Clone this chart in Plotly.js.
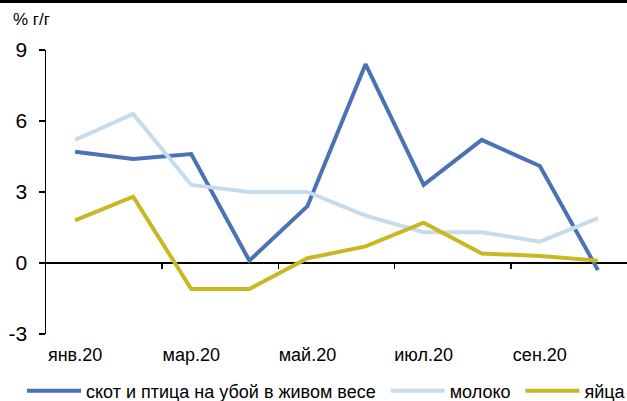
<!DOCTYPE html>
<html><head><meta charset="utf-8">
<script src="https://cdn.plot.ly/plotly-3.0.1.min.js"></script>
<style>html,body{margin:0;padding:0;background:#fff;}#chart{width:627px;height:401px;}</style>
</head><body><div id="chart"></div>
<script>
const months = ["янв.20","фев.20","мар.20","апр.20","май.20","июн.20","июл.20","авг.20","сен.20","окт.20"];
const seriesNames = ["скот и птица на убой в живом весе","молоко","яйца"];
const livestock = [4.7, 4.4, 4.6, 0.1, 2.4, 8.4, 3.3, 5.2, 4.1, -0.3];
const milk = [5.2, 6.3, 3.3, 3.0, 3.0, 2.0, 1.3, 1.3, 0.9, 1.9];
const eggs = [1.8, 2.8, -1.1, -1.1, 0.2, 0.7, 1.7, 0.4, 0.3, 0.1];
const yTicks = [-3, 0, 3, 6, 9];
const colors = ["#4a72b4", "#c6dbec", "#c9b823"];

const idx = months.map((m, i) => i);
const W = 627, H = 401, L = 46, R = 0, T = 50, B = 67;
const pw = W - L - R, ph = H - T - B;
const px = p => (p - L) / pw;
const py = p => (H - B - p) / ph;

const traces = [livestock, milk, eggs].map((v, k) => ({
  x: idx, y: v, type: "scatter", mode: "lines",
  name: seriesNames[k] + (k < 2 ? "\u00a0" : ""),
  line: {color: colors[k], width: 4}, xaxis: "x", yaxis: "y"
}));
traces.push({x: [0], y: [0], xaxis: "x2", yaxis: "y", showlegend: false, hoverinfo: "skip",
  mode: "markers", marker: {opacity: 0}});

const layout = {
  width: W, height: H,
  margin: {l: L, r: R, t: T, b: B, pad: 0, autoexpand: false},
  paper_bgcolor: "#fff", plot_bgcolor: "#fff",
  font: {family: "Liberation Sans, Arial, sans-serif", color: "#000"},
  showlegend: true,
  legend: {orientation: "h", x: px(22), xanchor: "left", y: py(391), yanchor: "middle",
    font: {size: 18}, itemwidth: 54, tracegroupgap: 0, bgcolor: "rgba(0,0,0,0)"},
  xaxis: {range: [-0.5, 9.5], tickmode: "array", tickvals: [0, 2, 4, 6, 8],
    ticktext: [0, 2, 4, 6, 8].map(i => months[i]), showgrid: false, zeroline: false,
    showline: false, ticks: "", tickfont: {size: 18}, ticklabelstandoff: 8, fixedrange: true},
  xaxis2: {range: [-0.5, 9.5], overlaying: "x", anchor: "free", position: py(263),
    tickmode: "array", tickvals: [1.5, 3.5, 5.5, 7.5], ticks: "outside", ticklen: 5,
    tickwidth: 1.5, tickcolor: "#000", showticklabels: false, showgrid: false,
    zeroline: false, showline: false, side: "bottom"},
  yaxis: {range: [-3, 9], tickmode: "array", tickvals: yTicks, ticktext: yTicks.map(String),
    showgrid: false, zeroline: true, zerolinecolor: "#000", zerolinewidth: 1.5,
    showline: true, linecolor: "#000", linewidth: 1.5, ticks: "outside", ticklen: 6,
    tickwidth: 1.5, tickcolor: "#000", tickfont: {size: 21}, ticklabelstandoff: 7},
  annotations: [{text: "% г/г", xref: "paper", yref: "paper", x: px(11), y: py(19),
    xanchor: "left", yanchor: "middle", showarrow: false, font: {size: 17}}],
  shapes: [{type: "line", xref: "paper", yref: "paper", x0: px(0), x1: px(627),
    y0: py(1.5), y1: py(1.5), line: {color: "#000", width: 3}}]
};
Plotly.newPlot("chart", traces, layout, {displayModeBar: false, staticPlot: true});
</script></body></html>
